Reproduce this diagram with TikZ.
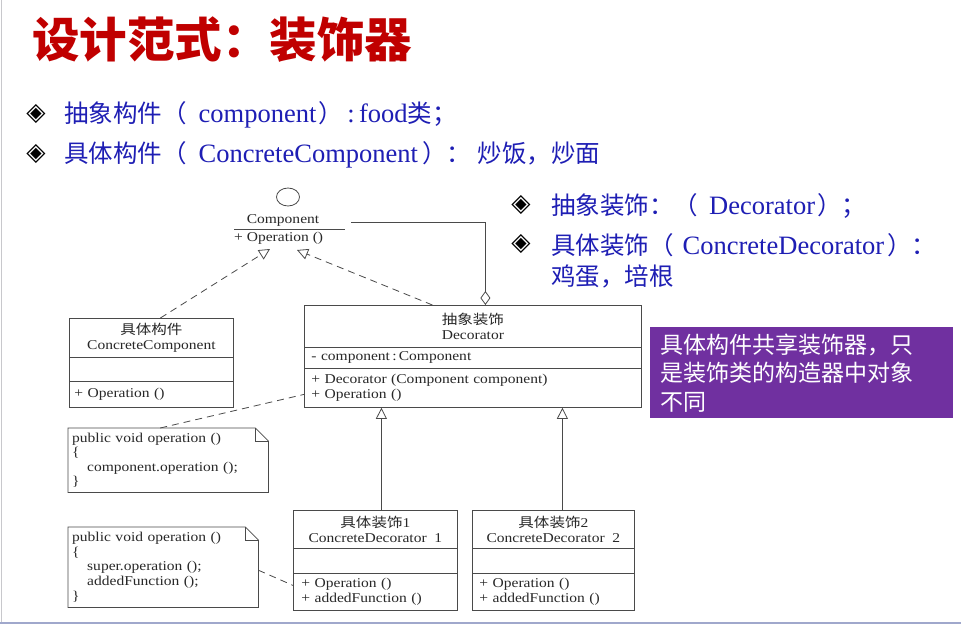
\documentclass[tikz,border=0pt]{standalone}
\usepackage{fontspec}
\setmainfont{Liberation Serif}
\newfontfamily\cjk{Noto Sans CJK SC}
\newfontfamily\umlrm[FakeStretch=1.15]{Liberation Serif}
\newfontfamily\umlcjk[FakeStretch=1.15]{Noto Sans CJK SC}
\newfontfamily\symf{DejaVu Sans}
\usetikzlibrary{arrows.meta,shapes.geometric}

\definecolor{titlered}{HTML}{C00000}
\definecolor{bulletblue}{HTML}{1E1EB4}
\definecolor{boxpurple}{HTML}{7030A0}
\definecolor{umlline}{HTML}{4A4A4A}
\definecolor{umltext}{HTML}{282828}
\definecolor{framegray}{HTML}{C8C8CC}
\definecolor{frameblue}{HTML}{A0A8CC}

% Chinese run inside a bullet line
\newcommand{\cj}[1]{{\cjk\fontsize{24.5}{28}\selectfont #1}}

\tikzset{
  umlfont/.style={font=\umlrm\fontsize{13.5}{14.5}\selectfont, text=umltext},
  umlpart/.style={draw=umlline, line width=0.8pt, anchor=north west, inner sep=0pt, umlfont},
  notebox/.style={anchor=north west, inner sep=0pt, umlfont, align=left},
  umledge/.style={draw=umlline, line width=0.8pt},
  realize/.style={umledge, dash pattern=on 7pt off 5pt, -{Triangle[open,length=11pt,width=11pt]}},
  generalize/.style={umledge, -{Triangle[open,length=11pt,width=11pt]}},
  aggregate/.style={umledge, -{Diamond[open,length=14pt,width=10pt]}},
  notelink/.style={umledge, dash pattern=on 7pt off 5pt},
  bul/.style={font=\symf\bfseries\fontsize{25}{25}\selectfont, inner sep=0pt},
  btext/.style={anchor=west, inner sep=0pt, text=bulletblue, font=\fontsize{26.5}{28}\selectfont}
}

% outline of a UML note with a folded corner
\newcommand{\dognote}[1]{%
  \draw[umledge] (#1.north west) -- ([xshift=-13pt]#1.north east)
    -- ([yshift=-13pt]#1.north east) -- (#1.south east) -- (#1.south west) -- cycle;
  \draw[umledge] ([xshift=-13pt]#1.north east) -- ([xshift=-13pt,yshift=-13pt]#1.north east)
    -- ([yshift=-13pt]#1.north east);
}

\begin{document}
\begin{tikzpicture}[x=1pt,y=-1pt]
\useasboundingbox (0,0) rectangle (961,624);
\fill[white] (0,0) rectangle (961,624);
\draw[framegray, line width=1.2pt] (1.2,0) -- (1.2,624);
\draw[frameblue, line width=1.5pt] (0,622.8) -- (961,622.8);

% title
\node[anchor=west, inner sep=0pt, text=titlered, font=\cjk\bfseries\fontsize{47.5}{48}\selectfont] (title) at (32,40) {设计范式：装饰器};

% bullet list, left
\node[bul] (b1) at (36,114) {◈};
\node[btext] (t1) at (64,115) {\cj{抽象构件（}\hspace{12pt}component\hspace{2pt}\cj{）}\,:\,food\cj{类；}};
\node[bul] (b2) at (36,154) {◈};
\node[btext] (t2) at (64,155) {\cj{具体构件（}\hspace{12pt}ConcreteComponent\hspace{4pt}\cj{）：}\hspace{7pt}\cj{炒饭，炒面}};

% bullet list, right
\node[bul] (b3) at (521,205) {◈};
\node[btext] (t3) at (551,206) {\cj{抽象装饰：（}\hspace{11pt}Decorator\hspace{2pt}\cj{）；}};
\node[bul] (b4) at (521,244) {◈};
\node[btext] (t4) at (551,245) {\cj{具体装饰（}\hspace{9pt}ConcreteDecorator\hspace{3pt}\cj{）：}};
\node[btext] (t5) at (551,276) {\cj{鸡蛋，培根}};

% remark box
\node[anchor=north west, fill=boxpurple, text=white, minimum width=303pt, minimum height=91pt,
      text width=283pt, inner sep=0pt, align=left, font=\cjk\fontsize{23}{28.5}\selectfont]
      (remark) at (650,327) {具体构件共享装饰器，只\\是装饰类的构造器中对象\\不同};

% Component interface
\node[ellipse, draw=umlline, line width=0.8pt, minimum width=23pt, minimum height=18pt, inner sep=0pt] (lolly) at (288,197) {};
\node[umlfont, inner sep=0pt] (compname) at (283,220) {Component};
\node[umlfont, inner sep=0pt, anchor=west] (compop) at (234,238) {+ Operation ()};
\draw[umledge] (234,229) -- (345,229);

% ConcreteComponent
\node[umlpart, minimum width=164pt, minimum height=39pt, align=center] (cch) at (69,318)
  {{\umlcjk 具体构件}\\ConcreteComponent};
\node[umlpart, minimum width=164pt, minimum height=24pt] (cca) at (69,357) {};
\node[umlpart, minimum width=164pt, minimum height=26pt, text width=154pt, align=left] (cco) at (69,381)
  {+ Operation ()};

% Decorator
\node[umlpart, minimum width=337pt, minimum height=42pt, align=center] (dech) at (304,305)
  {{\umlcjk 抽象装饰}\\Decorator};
\node[umlpart, minimum width=337pt, minimum height=21pt, text width=323pt, align=left] (deca) at (304,347)
  {- component\,:\,Component};
\node[umlpart, minimum width=337pt, minimum height=39pt, text width=323pt, align=left] (deco) at (304,368)
  {+ Decorator (Component component)\\+ Operation ()};

% ConcreteDecorator 1
\node[umlpart, minimum width=164pt, minimum height=38pt, align=center] (cd1h) at (293,510)
  {{\umlcjk 具体装饰}1\\ConcreteDecorator\ \ 1};
\node[umlpart, minimum width=164pt, minimum height=25pt] (cd1a) at (293,548) {};
\node[umlpart, minimum width=164pt, minimum height=37pt, text width=148pt, align=left] (cd1o) at (293,573)
  {+ Operation ()\\+ addedFunction ()};

% ConcreteDecorator 2
\node[umlpart, minimum width=162pt, minimum height=38pt, align=center] (cd2h) at (472,510)
  {{\umlcjk 具体装饰}2\\ConcreteDecorator\ \ 2};
\node[umlpart, minimum width=162pt, minimum height=25pt] (cd2a) at (472,548) {};
\node[umlpart, minimum width=162pt, minimum height=37pt, text width=148pt, align=left] (cd2o) at (472,573)
  {+ Operation ()\\+ addedFunction ()};

% notes
\node[notebox, minimum width=200pt, minimum height=64pt, text width=192pt, font=\umlrm\fontsize{13.5}{14.3}\selectfont] (n1) at (68,428)
  {public void operation ()\\\{\\\hspace*{15pt}component.operation ();\\\}};
\dognote{n1}
\node[notebox, minimum width=190pt, minimum height=80pt, text width=182pt, font=\umlrm\fontsize{13.5}{14.8}\selectfont] (n2) at (68,527)
  {public void operation ()\\\{\\\hspace*{15pt}super.operation ();\\\hspace*{15pt}addedFunction ();\\\}};
\dognote{n2}

% connectors
\coordinate (tipa) at (270,249);
\coordinate (tipb) at (297,250);
\coordinate (aggstart) at (351,222);
\draw[realize] ([xshift=9pt]cch.north) -- (tipa);
\draw[realize] ([xshift=-40.5pt]dech.north) -- (tipb);
\draw[aggregate] (aggstart) -| ([xshift=12.5pt]dech.north);
\draw[generalize] ([xshift=6pt]cd1h.north) -- ([xshift=6pt]cd1h.north |- deco.south);
\draw[generalize] ([xshift=9pt]cd2h.north) -- ([xshift=9pt]cd2h.north |- deco.south);
\draw[notelink] ([xshift=-8pt]n1.north) -- ([yshift=-6.5pt]deco.west);
\draw[notelink] ([yshift=-3pt]n2.east) -- ([yshift=6.5pt]cd1o.west);
\end{tikzpicture}
\end{document}
